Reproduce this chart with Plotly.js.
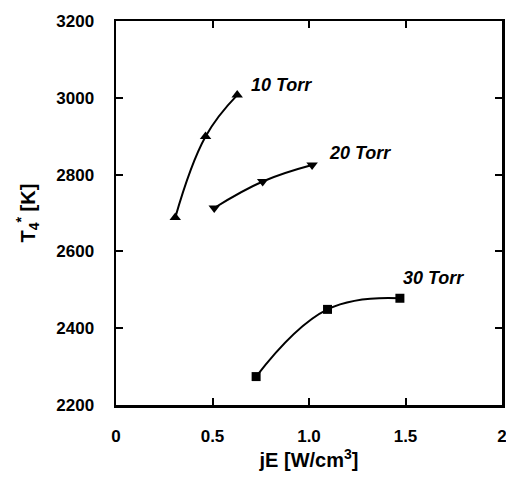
<!DOCTYPE html>
<html>
<head>
<meta charset="utf-8">
<script src="https://cdn.plot.ly/plotly-3.0.1.min.js"></script>
<style>
html,body{margin:0;padding:0;background:#fff;}
#chart{width:506px;height:479px;}
</style>
</head>
<body>
<div id="chart"></div>
<script>
// Data
const x10 = [0.307, 0.464, 0.628];
const y10 = [2688, 2899, 3007];
const x20 = [0.509, 0.760, 1.016];
const y20 = [2713, 2782, 2825];
const x30 = [0.726, 1.096, 1.471];
const y30 = [2274, 2449, 2478];

const seriesLabels = ['10 Torr', '20 Torr', '30 Torr'];
const labelX = [0.69, 1.095, 1.477];
const labelY = [3033, 2856, 2531];

const xTickVals = [0, 0.5, 1.0, 1.5, 2];
const xTickText = ['0', '0.5', '1.0', '1.5', '2'];
const yTickVals = [2200, 2400, 2600, 2800, 3000, 3200];

const FONT = 'Liberation Sans, Arial, Helvetica, sans-serif';

const lineStyle = {color: '#000', width: 2, shape: 'spline', smoothing: 1.2};

const traces = [
  {x: x10, y: y10, mode: 'lines+markers', line: lineStyle,
   marker: {symbol: 'triangle-up', size: 10, color: '#000'}},
  {x: x20, y: y20, mode: 'lines+markers', line: lineStyle,
   marker: {symbol: 'triangle-down', size: 10, color: '#000'}},
  {x: x30, y: y30, mode: 'lines+markers', line: lineStyle,
   marker: {symbol: 'square', size: 9, color: '#000'}}
];

const annotations = seriesLabels.map((t, i) => ({
  x: labelX[i], y: labelY[i], xref: 'x', yref: 'y',
  text: '<b><i>' + t + '</i></b>', showarrow: false,
  xanchor: 'left', yanchor: 'middle',
  font: {family: FONT, size: 18, color: '#000'}
}));

const layout = {
  width: 506, height: 479,
  margin: {l: 116, r: 4, t: 21, b: 74},
  paper_bgcolor: '#fff', plot_bgcolor: '#fff',
  showlegend: false,
  font: {family: FONT, color: '#000'},
  xaxis: {
    range: [0, 2], tickvals: xTickVals, ticktext: xTickText,
    ticks: 'inside', ticklen: 7, tickwidth: 2, tickcolor: '#000',
    showline: true, linewidth: 2.5, linecolor: '#000', mirror: 'ticks',
    showgrid: false, zeroline: false,
    ticklabelstandoff: 14, ticklabeloverflow: 'allow',
    tickfont: {family: FONT, size: 17, color: '#000', weight: 'bold'},
    title: {text: '<b>jE [W/cm<sup>3</sup>]</b>', standoff: 8,
            font: {family: FONT, size: 20, color: '#000'}}
  },
  yaxis: {
    range: [2200, 3200], tickvals: yTickVals,
    ticks: 'inside', ticklen: 7, tickwidth: 2, tickcolor: '#000',
    showline: true, linewidth: 2.5, linecolor: '#000', mirror: 'ticks',
    showgrid: false, zeroline: false,
    ticklabelstandoff: 16, ticklabeloverflow: 'allow',
    tickfont: {family: FONT, size: 17, color: '#000', weight: 'bold'},
    title: {text: '<b>T<sub>4</sub><sup>*</sup> [K]</b>', standoff: 16,
            font: {family: FONT, size: 20, color: '#000'}}
  },
  annotations: annotations
};

Plotly.newPlot('chart', traces, layout, {displayModeBar: false, staticPlot: true});
</script>
</body>
</html>
